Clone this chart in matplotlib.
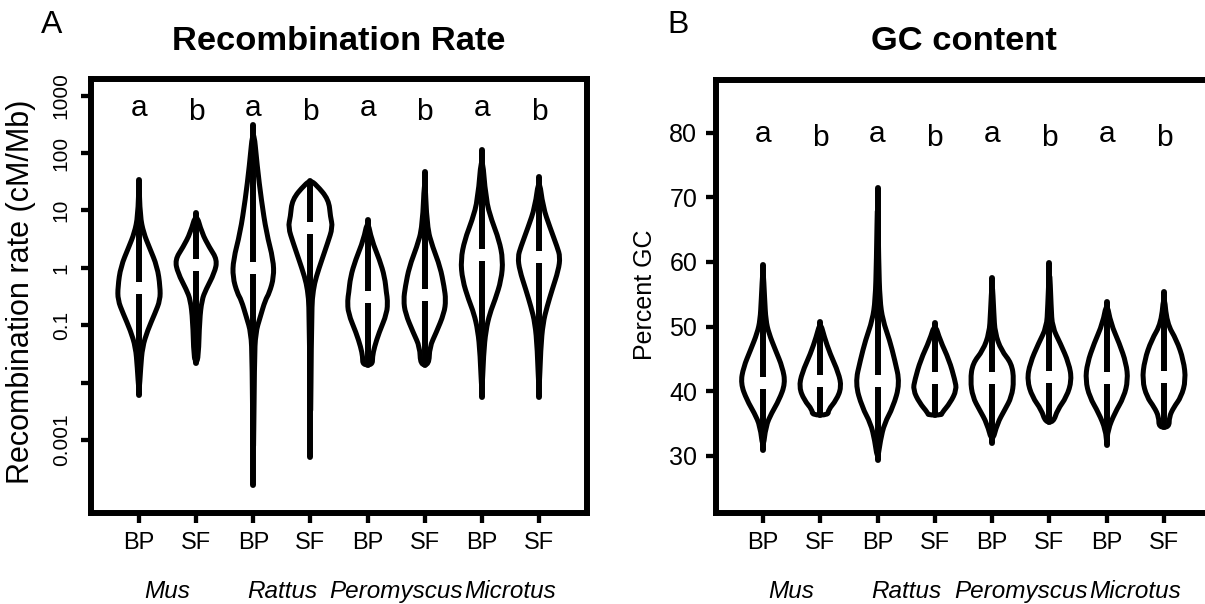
import numpy as np
import matplotlib
matplotlib.use("Agg")
import matplotlib.pyplot as plt
from matplotlib.path import Path
from matplotlib.patches import PathPatch
from matplotlib.transforms import blended_transform_factory, offset_copy

plt.rcParams['font.family'] = ['Liberation Sans', 'DejaVu Sans']

# groups / labels
genera = ['Mus', 'Rattus', 'Peromyscus', 'Microtus']
groups = ['BP', 'SF', 'BP', 'SF', 'BP', 'SF', 'BP', 'SF']
letters = ['a', 'b', 'a', 'b', 'a', 'b', 'a', 'b']

# --- panel A: recombination rate, profiles as (log10 cM/Mb, half width) ---
rec_mus_bp = [(-2.21, 0), (-1.73, 0.03), (-1.38, 0.06), (-1.09, 0.15), (-0.79, 0.28),
              (-0.56, 0.37), (-0.33, 0.37), (0.02, 0.32), (0.36, 0.18), (0.61, 0.08),
              (0.9, 0.02), (1.53, 0)]
rec_mus_sf = [(-1.66, 0), (-1.55, 0.04), (-0.91, 0.06), (-0.56, 0.10), (-0.38, 0.17),
              (-0.09, 0.32), (0.14, 0.37), (0.36, 0.23), (0.61, 0.10), (0.96, 0)]
rec_rat_bp = [(-3.78, 0), (-1.6, 0.02), (-1.13, 0.04), (-0.86, 0.12), (-0.56, 0.21),
              (-0.44, 0.28), (-0.16, 0.36), (0.14, 0.35), (0.61, 0.23), (1.19, 0.14),
              (1.76, 0.07), (2.49, 0)]
rec_rat_sf = [(-3.29, 0), (-0.7, 0.02), (-0.38, 0.05), (-0.16, 0.10), (0.14, 0.20),
              (0.43, 0.30), (0.71, 0.39), (0.89, 0.35), (1.19, 0.32), (1.45, 0.10),
              (1.52, 0)]
rec_per_bp = [(-1.69, 0.085), (-1.55, 0.085), (-1.38, 0.12), (-1.13, 0.20), (-0.79, 0.34),
              (-0.56, 0.35), (-0.44, 0.33), (-0.16, 0.30), (0.14, 0.21), (0.49, 0.07),
              (0.83, 0)]
rec_per_sf = [(-1.69, 0.075), (-1.38, 0.085), (-1.13, 0.20), (-0.79, 0.34), (-0.56, 0.37),
              (-0.33, 0.34), (0.02, 0.27), (0.36, 0.14), (0.71, 0.04), (1.67, 0)]
rec_mic_bp = [(-2.25, 0), (-1.5, 0.03), (-1.09, 0.07), (-0.79, 0.14), (-0.56, 0.23),
              (-0.21, 0.34), (0.14, 0.37), (0.49, 0.30), (0.83, 0.17), (1.19, 0.07),
              (2.05, 0)]
rec_mic_sf = [(-2.25, 0), (-1.4, 0.03), (-0.96, 0.07), (-0.68, 0.14), (-0.38, 0.23),
              (-0.04, 0.34), (0.19, 0.37), (0.36, 0.32), (0.71, 0.19), (1.06, 0.07),
              (1.58, 0)]
rec_profiles = [rec_mus_bp, rec_mus_sf, rec_rat_bp, rec_rat_sf,
                rec_per_bp, rec_per_sf, rec_mic_bp, rec_mic_sf]
rec_median_log10 = [-0.35, 0.05, 0.0, 0.69, -0.51, -0.47, 0.22, 0.19]
rec_ticks = [0.001, 0.01, 0.1, 1, 10, 100, 1000]
rec_ticklabels = ['0.001', '', '0.1', '1', '10', '100', '1000']

# --- panel B: GC content, profiles as (percent GC, half width) ---
gc_mus_bp = [(30.9, 0), (34.6, 0.05), (36.6, 0.15), (38.6, 0.28), (41.2, 0.39),
             (43.7, 0.34), (46.3, 0.22), (49.0, 0.10), (51.0, 0.05), (54.1, 0.03), (59.5, 0)]
gc_mus_sf = [(36.3, 0.14), (37.1, 0.14), (38.6, 0.28), (40.6, 0.37), (42.8, 0.32),
             (45.8, 0.17), (48.4, 0.07), (50.7, 0)]
gc_rat_bp = [(29.3, 0), (32.4, 0.05), (35.0, 0.12), (37.5, 0.27), (41.2, 0.39),
             (44.8, 0.30), (47.9, 0.21), (51.0, 0.09), (54.1, 0.04), (60.0, 0.02), (71.4, 0)]
gc_rat_sf = [(36.3, 0.12), (36.6, 0.12), (38.2, 0.27), (40.2, 0.38), (41.7, 0.35),
             (44.8, 0.25), (47.9, 0.09), (50.5, 0)]
gc_per_bp = [(32.0, 0), (35.0, 0.09), (37.1, 0.22), (39.1, 0.34), (41.7, 0.38),
             (44.3, 0.34), (46.3, 0.16), (49.0, 0.05), (52.0, 0.03), (57.5, 0)]
gc_per_sf = [(35.2, 0.07), (37.1, 0.14), (39.1, 0.30), (41.7, 0.39), (44.3, 0.34),
             (47.4, 0.19), (49.9, 0.05), (53.0, 0.03), (59.8, 0)]
gc_mic_bp = [(31.7, 0), (34.0, 0.02), (36.6, 0.14), (39.1, 0.30), (41.7, 0.37),
             (44.3, 0.34), (47.4, 0.22), (50.5, 0.07), (53.8, 0)]
gc_mic_sf = [(34.4, 0.09), (36.0, 0.09), (37.5, 0.17), (39.1, 0.30), (41.7, 0.38),
             (44.8, 0.34), (47.9, 0.22), (50.5, 0.05), (55.3, 0)]
gc_profiles = [gc_mus_bp, gc_mus_sf, gc_rat_bp, gc_rat_sf,
               gc_per_bp, gc_per_sf, gc_mic_bp, gc_mic_sf]
gc_median = [41.3, 41.6, 41.5, 42.0, 42.0, 42.2, 42.0, 42.2]
gc_ticks = [30, 40, 50, 60, 70, 80]

W, H = 1205, 604
fig = plt.figure(figsize=(W / 100, H / 100), dpi=100)


def px_axes(left, top, right, bottom):
    return fig.add_axes([left / W, (H - bottom) / H, (right - left) / W, (bottom - top) / H])


def violin(ax, pos, profile, median, to_y=lambda v: v):
    prof = sorted(profile)
    right = [(pos + hw, v) for v, hw in prof]
    left = [(pos - hw, v) for v, hw in prof[::-1]]
    pts = right + left
    clean = [pts[0]]
    for p in pts[1:]:
        if p != clean[-1]:
            clean.append(p)
    if clean[-1] == clean[0]:
        clean = clean[:-1]
    P = np.array(clean)
    n = len(P)
    mids = (P + np.roll(P, -1, axis=0)) / 2
    verts = [mids[-1]]
    codes = [Path.MOVETO]
    for i in range(n):
        verts += [P[i], mids[i]]
        codes += [Path.CURVE3, Path.CURVE3]
    verts = np.array(verts)
    verts[:, 1] = to_y(verts[:, 1])
    patch = PathPatch(Path(verts, codes), facecolor='white', edgecolor='black',
                      lw=3.6, joinstyle='round', zorder=2)
    ax.add_patch(patch)
    lo, hi = prof[0][0], prof[-1][0]
    ax.plot([pos, pos], [to_y(lo), to_y(hi)], color='black', lw=4.3,
            solid_capstyle='round', zorder=3)
    ax.plot([pos], [to_y(median)], marker='s', ms=8.5, color='white',
            markeredgewidth=0, zorder=4)


def style(ax, letter_y):
    for s in ax.spines.values():
        s.set_linewidth(4.3)
    ax.tick_params(direction='out', length=7.5, width=3.1, labelsize=18)
    ax.tick_params(axis='x', pad=6, labelsize=17)
    ax.tick_params(which='minor', length=0)
    ax.set_xticks(range(1, 9))
    ax.set_xticklabels(groups)
    trans = blended_transform_factory(ax.transData, fig.transFigure)
    for i, g in enumerate(genera):
        ax.text(1.5 + 2 * i, (H - 598) / H, g, style='italic', fontsize=17.5,
                ha='center', va='baseline', transform=trans)
    # R centres the letters on their ink, so 'b' sits a little lower than 'a'
    for i, t in enumerate(letters):
        tr = offset_copy(ax.transData, fig=fig, x=0, y=-4 if t == 'b' else 0, units='dots')
        ax.text(i + 1, letter_y, t, ha='center', va='baseline', fontsize=21.5, transform=tr)


# panel A
axA = px_axes(91, 79, 587, 513)
axA.set_yscale('log')
for i, prof in enumerate(rec_profiles):
    violin(axA, i + 1, prof, rec_median_log10[i], to_y=lambda v: 10 ** np.asarray(v))
axA.set_xlim(0.16, 8.84)
axA.set_ylim(10 ** -4.27, 10 ** 3.29)
axA.set_yticks(rec_ticks)
axA.set_yticklabels(rec_ticklabels, rotation=90, va='center')
style(axA, 440)
axA.tick_params(axis='y', labelsize=15, pad=7)

# panel B
axB = px_axes(716, 80, 1211, 513)
for i, prof in enumerate(gc_profiles):
    violin(axB, i + 1, prof, gc_median[i])
axB.set_xlim(0.18, 8.82)
axB.set_ylim(21.13, 88.16)
axB.set_yticks(gc_ticks)
style(axB, 78.6)
axB.tick_params(axis='y', pad=6)

# titles, panel letters, axis titles
fig.text(339 / W, 1 - 50 / H, 'Recombination Rate', fontsize=24.8, fontweight='bold',
         ha='center', va='baseline')
fig.text(964 / W, 1 - 50 / H, 'GC content', fontsize=24.8, fontweight='bold',
         ha='center', va='baseline')
fig.text(52 / W, 1 - 33 / H, 'A', fontsize=23, ha='center', va='baseline')
fig.text(678 / W, 1 - 33 / H, 'B', fontsize=23, ha='center', va='baseline')
fig.text(21 / W, 1 - 292 / H, 'Recombination rate (cM/Mb)', fontsize=22,
         rotation=90, ha='center', va='center')
fig.text(645 / W, 1 - 295 / H, 'Percent GC', fontsize=18,
         rotation=90, ha='center', va='center')

fig.savefig('out.png', dpi=100)
